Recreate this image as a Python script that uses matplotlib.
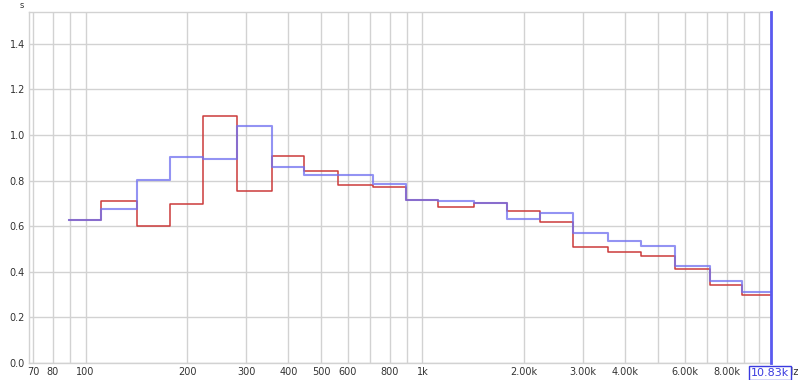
import numpy as np
import matplotlib
matplotlib.use("Agg")
import matplotlib.pyplot as plt
from matplotlib.ticker import FixedLocator, NullLocator

# 1/3-octave band centres (Hz)
band_centres = [100, 125, 160, 200, 250, 315, 400, 500, 630, 800, 1000,
                1250, 1600, 2000, 2500, 3150, 4000, 5000, 6300, 8000, 10000]
# reverberation time (s) per band
red_values = [0.626, 0.711, 0.601, 0.699, 1.083, 0.756, 0.907, 0.843, 0.779, 0.773, 0.715,
              0.684, 0.700, 0.668, 0.618, 0.507, 0.487, 0.469, 0.411, 0.341, 0.297]
blue_values = [0.626, 0.675, 0.804, 0.905, 0.895, 1.039, 0.858, 0.823, 0.826, 0.785, 0.715,
               0.711, 0.700, 0.632, 0.659, 0.569, 0.535, 0.515, 0.425, 0.361, 0.310]

x_tick_values = [70, 80, 100, 200, 300, 400, 500, 600, 800, 1000, 2000, 3000, 4000, 6000, 8000]
x_tick_labels = ["70", "80", "100", "200", "300", "400", "500", "600", "800", "1k",
                 "2.00k", "3.00k", "4.00k", "6.00k", "8.00k"]
x_grid_values = [70, 80, 90, 100, 200, 300, 400, 500, 600, 700, 800, 900,
                 1000, 2000, 3000, 4000, 5000, 6000, 7000, 8000, 9000, 10000]
y_tick_values = [0.0, 0.2, 0.4, 0.6, 0.8, 1.0, 1.2, 1.4]
cursor_freq = 10830
cursor_label = "10.83k"

fig = plt.figure(figsize=(8, 3.8), dpi=100)
ax = fig.add_axes([29/800, 17/380, 742/800, 351/380])
ax.set_xscale("log")
ax.set_xlim(67.9, cursor_freq)
ax.set_ylim(0, 1.54)

# band edges
c = np.array(band_centres, dtype=float)
edges = np.concatenate([c / 2 ** (1/6), [c[-1] * 2 ** (1/6)]])

def steps(vals):
    v = np.array(vals)
    return edges, np.concatenate([v, [v[-1]]])

ex, ry = steps(red_values)
ax.step(ex, ry, where="post", color="#cc3b3b", lw=1.1, zorder=3)
ex, by = steps(blue_values)
ax.step(ex, by, where="post", color="#6f6ff0", lw=1.5, alpha=0.75, zorder=4)

# grid
for xv in x_grid_values:
    ax.axvline(xv, color="#d2d2d2", lw=1.0, zorder=1)
for yv in y_tick_values:
    ax.axhline(yv, color="#d2d2d2", lw=1.0, zorder=1)

ax.xaxis.set_major_locator(FixedLocator(x_tick_values))
ax.xaxis.set_minor_locator(NullLocator())
ax.set_xticklabels(x_tick_labels)
ax.set_yticks(y_tick_values)
ax.set_yticklabels([f"{v:.1f}" for v in y_tick_values])
ax.tick_params(axis="both", length=0, labelsize=7, colors="#333333", pad=3)
for s in ax.spines.values():
    s.set_color("#d2d2d2")
    s.set_linewidth(1.0)

# cursor
ax.axvline(cursor_freq, color="#5a5af0", lw=2.0, zorder=5, clip_on=False)
fig.text(798/800, 1 - 372/380, "Hz", fontsize=7, color="#333333", ha="right", va="center",
         zorder=1)
fig.text(770/800, 1 - 373/380, cursor_label, fontsize=8, color="#3a3ae0",
         ha="center", va="center", zorder=5,
         bbox=dict(boxstyle="square,pad=0.15", fc="white", ec="#3a3ae0", lw=1.0))
fig.text(22/800, 1 - 5/380, "s", fontsize=6, color="#333333", ha="center", va="center")

fig.savefig("out.png", dpi=100, facecolor="white")
